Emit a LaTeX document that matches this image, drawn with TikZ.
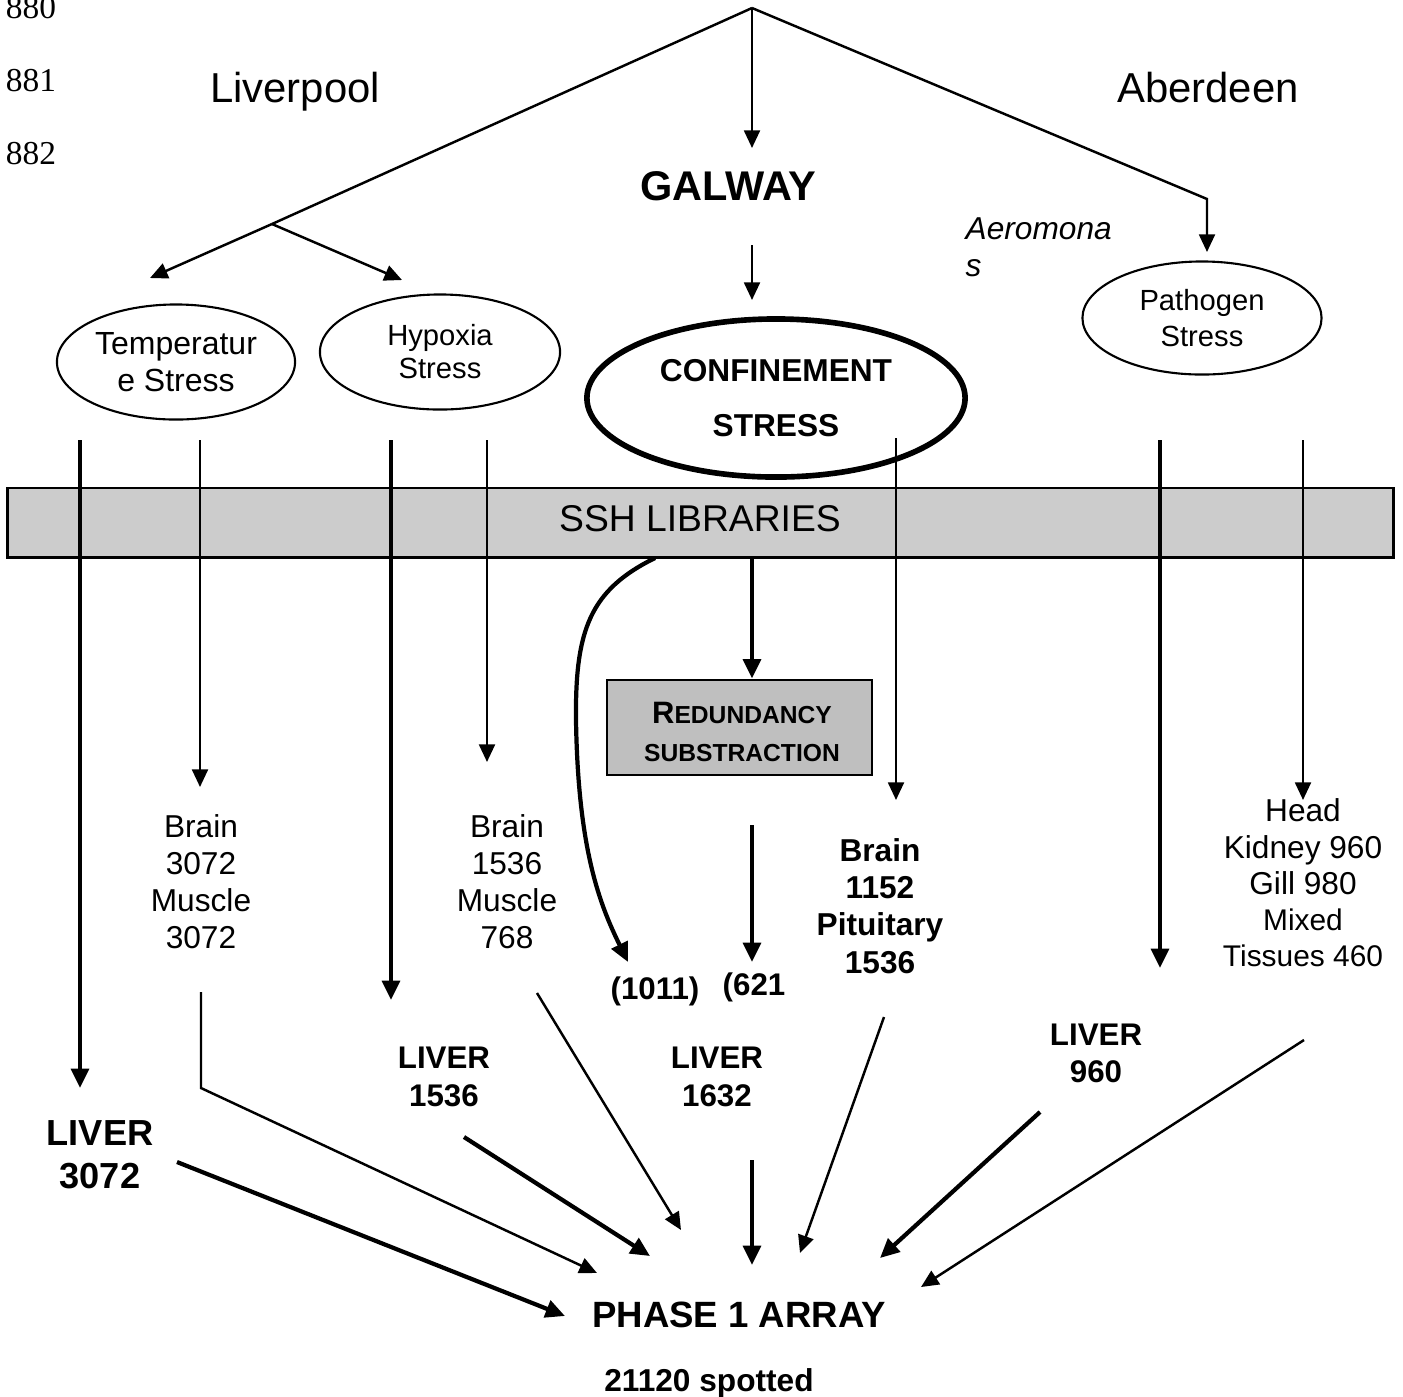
\documentclass[tikz,border=0pt]{standalone}
\usepackage{fontspec}
\setmainfont{Liberation Sans}
\newfontfamily\linenofont{Liberation Serif}
\usepackage{xcolor}
\usetikzlibrary{arrows.meta,shapes.geometric}
\definecolor{barfill}{gray}{0.8}
\definecolor{boxfill}{gray}{0.75}
\newcommand{\fsz}[2]{\fontsize{#1}{#2}\selectfont}
\tikzset{
  thinarrow/.style={line width=0.7pt, -{Triangle[width=4.5pt,length=5pt]}},
  thickarrow/.style={line width=1.2pt, -{Triangle[width=5pt,length=5.5pt]}},
  thinline/.style={line width=0.7pt},
  lineno/.style={font=\linenofont\fsz{9.5}{11}, inner sep=0pt, anchor=base},
  site/.style={font=\fsz{11.9}{14}, inner sep=0pt, anchor=base},
  stress/.style={draw, ellipse, line width=0.6pt, inner sep=0pt, align=center},
  tissue/.style={align=center, inner sep=0pt, font=\fsz{9}{10.5}},
  liver/.style={align=center, inner sep=0pt, font=\bfseries\fsz{8.9}{10.8}},
}
\begin{document}
\begin{tikzpicture}[x=0.01cm, y=-0.01cm]
    \useasboundingbox (0,0) rectangle (1403,1396);
    % line numbers
    \node[lineno](n880) at (31,18){880};
    \node[lineno](n881) at (31,91){881};
    \node[lineno](n882) at (31,164){882};
    % sites
    \node[site](liverpool) at (295,102){Liverpool};
    \node[site](aberdeen) at (1208,102){Aberdeen};
    \node[inner sep=0pt, font=\bfseries\fsz{11.8}{14}](galway) at (728,186){GALWAY};
    \node[anchor=north west, inner sep=0pt, align=left, font=\itshape\fsz{9}{10.5}](aeromonas)
      at (965,217){Aeromona\\s};

    % the split from the top
    \coordinate (top) at (752,8);
    \coordinate (lsplit) at (272,224);
    \coordinate (tempin) at (150,278);
    \coordinate (hypin) at (402,280);
    \coordinate (galin) at (752,148);
    \coordinate (rbend) at (1207,199);
    \coordinate (pathin) at (1207,252);
    \coordinate (galout) at (752,245);
    \coordinate (confin) at (752,300);
    \draw [thinline] (top) -- (lsplit);
    \draw [thinarrow] (lsplit) -- (tempin);
    \draw [thinarrow] (lsplit) -- (hypin);
    \draw [thinarrow] (top) -- (galin);
    \draw [thinarrow] (top) -- (rbend) -- (pathin);
    \draw [thinarrow] (galout) -- (confin);

    % stresses
    \node[stress, minimum width=2.38cm, minimum height=1.15cm, font=\fsz{9.1}{10.5}](temp)
      at (176,362){Temperatur\\e Stress};
    \node[stress, minimum width=2.40cm, minimum height=1.15cm, font=\fsz{8.3}{9.4}](hypoxia)
      at (440,352){Hypoxia\\Stress};
    \node[stress, line width=1.6pt, minimum width=3.78cm, minimum height=1.58cm,
      font=\bfseries\fsz{9}{15.6}](confine) at (776,398){CONFINEMENT\\STRESS};
    \node[stress, minimum width=2.39cm, minimum height=1.13cm, font=\fsz{8.3}{10}](pathogen)
      at (1202,318){Pathogen\\Stress};

    % SSH libraries
    \node[draw, fill=barfill, line width=0.85pt, minimum width=13.85cm, minimum height=0.69cm,
      inner sep=0pt](ssh) at (700.5,522.5){};
    \node[inner sep=0pt, font=\fsz{10.6}{12}](sshtext) at (700,519){SSH LIBRARIES};

    % down through the libraries
    \coordinate (t1) at (80,440);
    \coordinate (l3072in) at (80,1088);
    \coordinate (t2) at (200,440);
    \coordinate (b3072in) at (200,787);
    \coordinate (h1) at (391,440);
    \coordinate (l1536in) at (391,1000);
    \coordinate (h2) at (487,440);
    \coordinate (b1536in) at (487,762);
    \coordinate (c1) at (896,438);
    \coordinate (b1152in) at (896,800);
    \coordinate (p1) at (1160,440);
    \coordinate (l960in) at (1160,968);
    \coordinate (p2) at (1303,440);
    \coordinate (headin) at (1303,800);
    \draw [thickarrow] (t1) -- (l3072in);
    \draw [thinarrow] (t2) -- (b3072in);
    \draw [thickarrow] (h1) -- (l1536in);
    \draw [thinarrow] (h2) -- (b1536in);
    \draw [thinarrow] (c1) -- (b1152in);
    \draw [thickarrow] (p1) -- (l960in);
    \draw [thinarrow] (p2) -- (headin);

    % redundancy substraction
    \node[draw, fill=boxfill, line width=0.8pt, minimum width=2.65cm, minimum height=0.95cm,
      inner sep=0pt](redund) at (739.5,727.5){};
    \node[align=center, inner sep=0pt, font=\bfseries\fsz{7}{10.8}](redundtext)
      at (742,732){{\fsz{8.8}{10.8}R}EDUNDANCY\\SUBSTRACTION};
    \coordinate (c752) at (752,0);
    \draw [thickarrow] (ssh.south -| c752) -- (redund.north -| c752);
    \coordinate (cs) at (655,558);
    \coordinate (ce) at (628,962);
    \draw [thickarrow] (cs) .. controls (590,590) and (575,630) .. (576,720)
      .. controls (578,850) and (600,905) .. (ce);
    \coordinate (ro) at (752,825);
    \coordinate (re) at (752,962);
    \draw [thickarrow] (ro) -- (re);
    \node[inner sep=0pt, font=\bfseries\fsz{8.9}{10.8}](n1011) at (655,991){(1011)};
    \node[inner sep=0pt, font=\bfseries\fsz{8.9}{10.8}](n621) at (754,987){(621};

    % tissues
    \node[tissue](brainA) at (201,881.5){Brain\\3072\\Muscle\\3072};
    \node[tissue](brainB) at (507,881.5){Brain\\1536\\Muscle\\768};
    \node[tissue, font=\bfseries\fsz{9}{10.6}](brainC) at (880,906){Brain\\1152\\Pituitary\\1536};
    \node[tissue, font=\fsz{9}{10.3}](head) at (1303,883){Head\\Kidney 960\\Gill 980\\
      {\fsz{8.5}{10.3}Mixed}\\{\fsz{8.5}{10.3}Tissues 460}};

    % livers
    \node[liver, font=\bfseries\fsz{10.3}{12.2}](liverA) at (100,1155){LIVER\\3072};
    \node[liver](liverB) at (444,1077){LIVER\\1536};
    \node[liver](liverC) at (717,1077){LIVER\\1632};
    \node[liver, font=\bfseries\fsz{8.9}{10.5}](liverD) at (1096,1053.5){LIVER\\960};

    % the array
    \node[inner sep=0pt, font=\bfseries\fsz{10.4}{12}](phase) at (739,1315){PHASE 1 ARRAY};
    \node[anchor=north, inner sep=0pt, font=\bfseries\fsz{9}{11}](spotted) at (709,1368){21120 spotted};

    % into the array
    \coordinate (a1s) at (177,1162);
    \coordinate (a1e) at (565,1316);
    \coordinate (a2s) at (201,992);
    \coordinate (a2b) at (201,1088);
    \coordinate (a2e) at (597,1273);
    \coordinate (a3s) at (464,1137);
    \coordinate (a3e) at (650,1256);
    \coordinate (a4s) at (537,993);
    \coordinate (a4e) at (681,1230);
    \coordinate (a5s) at (752,1160);
    \coordinate (a5e) at (752,1265);
    \coordinate (a6s) at (884,1017);
    \coordinate (a6e) at (800,1253);
    \coordinate (a7s) at (1040,1112);
    \coordinate (a7e) at (880,1258);
    \coordinate (a8s) at (1304,1040);
    \coordinate (a8e) at (921,1287);
    \draw [thickarrow] (a1s) -- (a1e);
    \draw [thinarrow] (a2s) -- (a2b) -- (a2e);
    \draw [thickarrow] (a3s) -- (a3e);
    \draw [thinarrow] (a4s) -- (a4e);
    \draw [thickarrow] (a5s) -- (a5e);
    \draw [thinarrow] (a6s) -- (a6e);
    \draw [thickarrow] (a7s) -- (a7e);
    \draw [thinarrow] (a8s) -- (a8e);
\end{tikzpicture}
\end{document}
